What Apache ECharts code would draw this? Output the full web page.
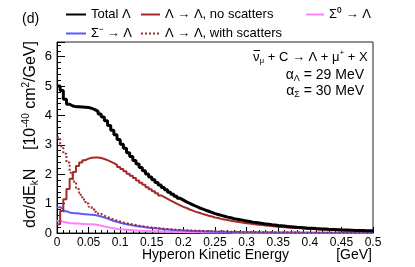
<!DOCTYPE html>
<html><head><meta charset="utf-8">
<script src="https://cdn.jsdelivr.net/npm/echarts@6/dist/echarts.min.js"></script>
<style>html,body{margin:0;padding:0;background:#fff}#c{width:415px;height:267px}</style>
</head><body><div id="c"></div>
<script>
var binWidth = 0.005;
var xTicks = ['0','0.05','0.1','0.15','0.2','0.25','0.3','0.35','0.4','0.45','0.5'];
var yTicks = ['0','1','2','3','4','5','6'];
var seriesNames = ['Total \u039B','\u039B \u2192 \u039B, no scatters','\u03A3\u207B \u2192 \u039B','\u039B \u2192 \u039B, with scatters','\u03A3\u2070 \u2192 \u039B'];

var totalLambda = [5.0,4.85,4.55,4.38,4.32,4.30,4.30,4.29,4.28,4.27,
4.24,4.20,4.14,4.05,3.95,3.82,3.66,3.50,3.34,3.18,
3.02,2.88,2.73,2.60,2.47,2.35,2.23,2.12,2.01,1.91,
1.81,1.72,1.63,1.55,1.47,1.39,1.32,1.25,1.18,1.12,
1.06,1.01,0.96,0.91,0.86,0.82,0.78,0.74,0.70,0.66,
0.63,0.60,0.57,0.54,0.52,0.49,0.47,0.45,0.43,0.41,
0.39,0.37,0.355,0.34,0.325,0.31,0.295,0.28,0.27,0.255,
0.245,0.235,0.225,0.215,0.205,0.195,0.188,0.18,0.172,0.165,
0.158,0.151,0.145,0.139,0.133,0.127,0.122,0.117,0.112,0.107,
0.103,0.099,0.095,0.091,0.088,0.085,0.082,0.079,0.076,0.073];

var noScatters = [0.30,0.75,1.15,1.50,1.85,2.08,2.28,2.40,2.48,2.53,
2.56,2.57,2.57,2.55,2.52,2.48,2.43,2.38,2.32,2.25,
2.18,2.10,2.02,1.95,1.87,1.79,1.71,1.64,1.56,1.49,
1.42,1.35,1.28,1.22,1.16,1.10,1.05,0.99,0.94,0.89,
0.85,0.80,0.76,0.72,0.69,0.65,0.62,0.59,0.56,0.53,
0.51,0.48,0.46,0.44,0.42,0.40,0.38,0.365,0.35,0.335,
0.32,0.305,0.29,0.28,0.27,0.255,0.245,0.235,0.225,0.215,
0.205,0.195,0.19,0.18,0.173,0.166,0.159,0.152,0.146,0.14,
0.134,0.128,0.123,0.118,0.113,0.108,0.104,0.1,0.096,0.092,
0.088,0.085,0.082,0.079,0.076,0.073,0.07,0.068,0.065,0.063];

var sigmaMinus = [0.88,0.82,0.74,0.70,0.68,0.67,0.66,0.65,0.64,0.63,
0.62,0.61,0.59,0.56,0.53,0.49,0.45,0.41,0.38,0.35,
0.32,0.30,0.28,0.26,0.24,0.225,0.21,0.195,0.18,0.17,
0.16,0.15,0.14,0.13,0.12,0.11,0.10,0.095,0.09,0.085,
0.08,0.075,0.07,0.066,0.062,0.058,0.055,0.052,0.049,0.046,
0.043,0.041,0.039,0.037,0.035,0.033,0.031,0.029,0.028,0.026,
0.025,0.024,0.023,0.022,0.021,0.02,0.019,0.018,0.017,0.016,
0.016,0.015,0.014,0.014,0.013,0.013,0.012,0.012,0.011,0.011,
0.01,0.01,0.01,0.009,0.009,0.009,0.008,0.008,0.008,0.007,
0.007,0.007,0.007,0.006,0.006,0.006,0.006,0.005,0.005,0.005];

var withScatters = [3.25,2.95,2.70,2.40,2.05,1.75,1.50,1.30,1.14,1.00,
0.89,0.80,0.72,0.65,0.59,0.54,0.50,0.46,0.42,0.39,
0.36,0.33,0.31,0.29,0.27,0.25,0.23,0.215,0.20,0.19,
0.175,0.165,0.155,0.145,0.135,0.128,0.12,0.113,0.106,0.10,
0.094,0.089,0.084,0.079,0.075,0.071,0.067,0.063,0.06,0.057,
0.054,0.051,0.048,0.046,0.043,0.041,0.039,0.037,0.035,0.033,
0.031,0.03,0.028,0.027,0.025,0.024,0.023,0.022,0.021,0.02,
0.019,0.018,0.017,0.016,0.015,0.015,0.014,0.013,0.013,0.012,
0.012,0.011,0.011,0.01,0.01,0.009,0.009,0.009,0.008,0.008,
0.008,0.007,0.007,0.007,0.006,0.006,0.006,0.006,0.005,0.005];

var sigmaZero = [0.42,0.38,0.36,0.34,0.33,0.32,0.32,0.31,0.31,0.30,
0.30,0.29,0.27,0.25,0.22,0.20,0.18,0.16,0.14,0.13,
0.12,0.11,0.10,0.09,0.085,0.08,0.075,0.07,0.065,0.06,
0.056,0.052,0.049,0.046,0.043,0.04,0.037,0.035,0.033,0.031,
0.029,0.027,0.026,0.024,0.023,0.021,0.02,0.019,0.018,0.017,
0.016,0.015,0.014,0.013,0.013,0.012,0.011,0.011,0.01,0.01,
0.009,0.009,0.009,0.008,0.008,0.008,0.007,0.007,0.007,0.007,
0.006,0.006,0.006,0.006,0.005,0.005,0.005,0.005,0.005,0.004,
0.004,0.004,0.004,0.004,0.004,0.004,0.003,0.003,0.003,0.003,
0.003,0.003,0.003,0.003,0.003,0.003,0.003,0.003,0.003,0.003];

function hist(vals){
  var d = vals.map(function(v,i){ return [+(i*binWidth).toFixed(4), v]; });
  d.push([+(vals.length*binWidth).toFixed(4), vals[vals.length-1]]);
  return d;
}

var FONT = 'Liberation Sans';
var chart = echarts.init(document.getElementById('c'), null, {renderer:'canvas'});
function mk(name, vals, color, width, type, z){
  return {name:name, type:'line', step:'end', data:hist(vals), symbol:'none', showSymbol:false,
    lineStyle:{color:color, width:width, type:type}, itemStyle:{color:color}, z:z, animation:false};
}
var legendBase = {orient:'vertical', top:3, itemGap:6, itemHeight:14,
  itemStyle:{opacity:0}, 
  textStyle:{fontFamily:FONT, fontSize:13, color:'#000'}, selectedMode:false};
chart.setOption({
  animation:false,
  grid:{left:57, right:42, top:42, bottom:34, show:true, borderColor:'#222', borderWidth:1, backgroundColor:'transparent'},
  legend:[
    Object.assign({}, legendBase, {left:60, itemWidth:20, data:[seriesNames[0], seriesNames[2]]}),
    Object.assign({}, legendBase, {left:135, itemWidth:19, data:[seriesNames[1], seriesNames[3]]}),
    Object.assign({}, legendBase, {left:300, itemWidth:18, data:[seriesNames[4]]})
  ],
  xAxis:{type:'value', min:0, max:0.5, interval:0.05,
    axisLine:{show:true, lineStyle:{color:'#000'}},
    axisTick:{show:true, inside:true, length:6, lineStyle:{color:'#000'}},
    minorTick:{show:true, splitNumber:5, length:3, lineStyle:{color:'#000'}},
    splitLine:{show:false},
    axisLabel:{margin:4, fontFamily:FONT, fontSize:12, color:'#000',
      formatter:function(v){ var i=Math.round(v/0.05); return xTicks[i]!==undefined?xTicks[i]:''; }}},
  yAxis:{type:'value', min:0, max:6.5, interval:1,
    axisLine:{show:true, lineStyle:{color:'#000'}},
    axisTick:{show:true, inside:true, length:8, lineStyle:{color:'#000'}},
    minorTick:{show:true, splitNumber:5, length:4, lineStyle:{color:'#000'}},
    splitLine:{show:false},
    axisLabel:{margin:5, fontFamily:FONT, fontSize:13, color:'#000',
      formatter:function(v){ var i=Math.round(v); return yTicks[i]!==undefined?yTicks[i]:''; }}},
  series:[
    mk(seriesNames[4], sigmaZero, '#ff80ff', 2, 'solid', 2),
    mk(seriesNames[2], sigmaMinus, '#5a5aff', 2, 'solid', 3),
    mk(seriesNames[3], withScatters, '#a52a2a', 2, [2,2], 4),
    mk(seriesNames[1], noScatters, '#a52a2a', 2, 'solid', 5),
    mk(seriesNames[0], totalLambda, '#000000', 3, 'solid', 6)
  ],
  graphic:[
    {type:'text', left:22, top:12, style:{text:'(d)', font:'14px '+FONT, fill:'#000'}},
    {type:'text', x:253, y:57, style:{text:'\u03BD{s|\u03BC} + C \u2192 \u039B + \u03BC{p|+} + X', align:'left', verticalAlign:'middle',
      font:'13px '+FONT, fill:'#000', rich:{s:{fontSize:8, padding:[8,0,0,0], fontFamily:FONT}, p:{fontSize:8, padding:[0,0,8,0], fontFamily:FONT}}}},
    {type:'line', shape:{x1:253.5, y1:50.5, x2:260, y2:50.5}, style:{stroke:'#000', lineWidth:1}},
    {type:'text', x:364, y:75, style:{text:'\u03B1{s|\u039B} = 29 MeV', align:'right', verticalAlign:'middle',
      font:'14px '+FONT, fill:'#000', rich:{s:{fontSize:9, padding:[8,0,0,0], fontFamily:FONT}}}},
    {type:'text', x:364, y:91, style:{text:'\u03B1{s|\u03A3} = 30 MeV', align:'right', verticalAlign:'middle',
      font:'14px '+FONT, fill:'#000', rich:{s:{fontSize:9, padding:[8,0,0,0], fontFamily:FONT}}}},
    {type:'text', x:31, y:228, rotation:Math.PI/2, style:{text:'d\u03C3/dE{s|k}N', align:'left', verticalAlign:'middle',
      font:'16px '+FONT, fill:'#000', rich:{s:{fontSize:10, padding:[8,0,0,0], fontFamily:FONT}}}},
    {type:'text', x:31, y:150, rotation:Math.PI/2, style:{text:'[10{p|-40} cm{p|2}/GeV]', align:'left', verticalAlign:'middle',
      font:'16px '+FONT, fill:'#000', rich:{p:{fontSize:10, padding:[0,0,9,0], fontFamily:FONT}}}},
    {type:'text', x:142, y:255, style:{text:'Hyperon Kinetic Energy', align:'left', verticalAlign:'middle', font:'14px '+FONT, fill:'#000'}},
    {type:'text', x:372, y:255, style:{text:'[GeV]', align:'right', verticalAlign:'middle', font:'14px '+FONT, fill:'#000'}}
  ]
});
</script></body></html>
